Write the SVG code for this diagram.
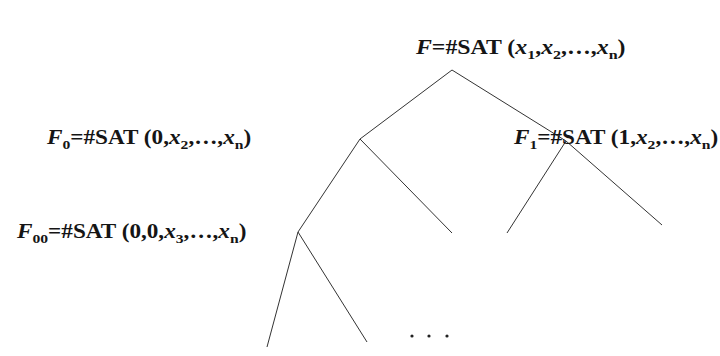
<svg xmlns="http://www.w3.org/2000/svg" width="720" height="356" viewBox="0 0 720 356">
<style>
.t{font-family:"Liberation Serif","Times New Roman",serif;font-weight:bold;font-size:20px;fill:#151515}
.i{font-style:italic}
.s{font-size:13.5px}
.e{stroke:#333;stroke-width:1;fill:none}
.d{fill:#222}
</style>
<rect width="720" height="356" fill="#fff"/>
<g id="connectors">
<line class="e" x1="452" y1="70" x2="360" y2="139"/>
<line class="e" x1="452" y1="70" x2="566" y2="141"/>
<line class="e" x1="566" y1="141" x2="662" y2="225"/>
<line class="e" x1="566" y1="141" x2="507" y2="233"/>
<line class="e" x1="360" y1="139" x2="452" y2="233"/>
<line class="e" x1="360" y1="139" x2="298" y2="232"/>
<line class="e" x1="298" y1="232" x2="267" y2="347"/>
<line class="e" x1="298" y1="232" x2="367" y2="342"/>
</g>
<g id="node-F">
<text class="t" transform="translate(416,54) scale(1.19,1)"><tspan class="i">F</tspan>=#SAT (<tspan class="i">x</tspan><tspan class="s" dy="5">1</tspan><tspan dy="-5">,</tspan><tspan class="i">x</tspan><tspan class="s" dy="5">2</tspan><tspan dy="-5">,…,</tspan><tspan class="i">x</tspan><tspan class="s" dy="5">n</tspan><tspan dy="-5">)</tspan></text>
</g>
<g id="node-F0">
<text class="t" transform="translate(47,144) scale(1.16,1)"><tspan class="i">F</tspan><tspan class="s" dy="5">0</tspan><tspan dy="-5">=#SAT (0,</tspan><tspan class="i">x</tspan><tspan class="s" dy="5">2</tspan><tspan dy="-5">,…,</tspan><tspan class="i">x</tspan><tspan class="s" dy="5">n</tspan><tspan dy="-5">)</tspan></text>
</g>
<g id="node-F1">
<text class="t" transform="translate(514,144) scale(1.16,1)"><tspan class="i">F</tspan><tspan class="s" dy="5">1</tspan><tspan dy="-5">=#SAT (1,</tspan><tspan class="i">x</tspan><tspan class="s" dy="5">2</tspan><tspan dy="-5">,…,</tspan><tspan class="i">x</tspan><tspan class="s" dy="5">n</tspan><tspan dy="-5">)</tspan></text>
</g>
<g id="node-F00">
<text class="t" transform="translate(17,238) scale(1.16,1)"><tspan class="i">F</tspan><tspan class="s" dy="5">00</tspan><tspan dy="-5">=#SAT (0,0,</tspan><tspan class="i">x</tspan><tspan class="s" dy="5">3</tspan><tspan dy="-5">,…,</tspan><tspan class="i">x</tspan><tspan class="s" dy="5">n</tspan><tspan dy="-5">)</tspan></text>
</g>
<g id="ellipsis">
<circle class="d" cx="412" cy="336" r="1.6"/>
<circle class="d" cx="429" cy="336" r="1.6"/>
<circle class="d" cx="447" cy="336" r="1.6"/>
</g>
</svg>
